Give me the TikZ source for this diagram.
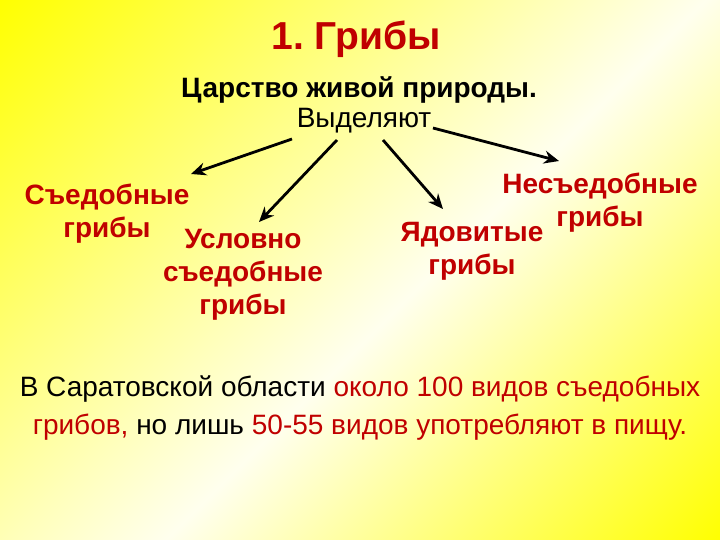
\documentclass[tikz,border=0pt]{standalone}
\usepackage{fontspec}
\setmainfont{Liberation Sans}
\usetikzlibrary{arrows.meta}
\definecolor{dred}{RGB}{192,0,0}
\definecolor{ylw}{RGB}{255,255,0}
\definecolor{pale}{RGB}{255,255,238}
\pgfdeclarehorizontalshading{bgshade}{100bp}{color(0bp)=(ylw); color(25bp)=(ylw); color(53bp)=(pale); color(75bp)=(ylw); color(100bp)=(ylw)}
\begin{document}
\begin{tikzpicture}[x=1pt,y=-1pt,
  lbl/.style={text=dred, font=\fontsize{28}{33}\selectfont\bfseries, align=center, inner sep=0pt},
  arr/.style={-{Stealth[length=15pt,width=13pt]}, line width=2.8pt, black}]
\useasboundingbox (0,0) rectangle (720,540);
\begin{scope}
\clip (0,0) rectangle (720,540);
\begin{scope}[transform canvas={rotate around={-45:(360,270)}}]
\shade[shading=bgshade] (-86,-176) rectangle (806,716);
\end{scope}
\end{scope}

\node[text=dred, font=\fontsize{39}{40}\selectfont\bfseries, inner sep=0pt] (title) at (356,39) {1.~Грибы};
\node[font=\fontsize{28}{30}\selectfont\bfseries, inner sep=0pt] (king) at (359,90) {Царство живой природы.};
\node[font=\fontsize{28}{30}\selectfont, inner sep=0pt] (vyd) at (364,121) {Выделяют};

\node[lbl] (ed) at (107,214) {Съедобные\\грибы};
\node[lbl] (usl) at (243,275) {Условно\\съедобные\\грибы};
\node[lbl] (yad) at (472,251) {Ядовитые\\грибы};
\node[lbl] (ned) at (600,203) {Несъедобные\\грибы};

\node[font=\fontsize{28}{38}\selectfont, align=center, inner sep=0pt] (bottom) at (360,408)
  {В Саратовской области \textcolor{dred}{около 100 видов съедобных}\\
   \textcolor{dred}{грибов,} но лишь \textcolor{dred}{50-55 видов употребляют в пищу.}};

\coordinate (a1s) at (292,139); \coordinate (a1e) at (191,174);
\coordinate (a2s) at (337,140); \coordinate (a2e) at (259,222);
\coordinate (a3s) at (383,140); \coordinate (a3e) at (443,209);
\coordinate (a4s) at (433,128); \coordinate (a4e) at (559,161);
\draw[arr] (a1s) -- (a1e);
\draw[arr] (a2s) -- (a2e);
\draw[arr] (a3s) -- (a3e);
\draw[arr] (a4s) -- (a4e);
\end{tikzpicture}
\end{document}
